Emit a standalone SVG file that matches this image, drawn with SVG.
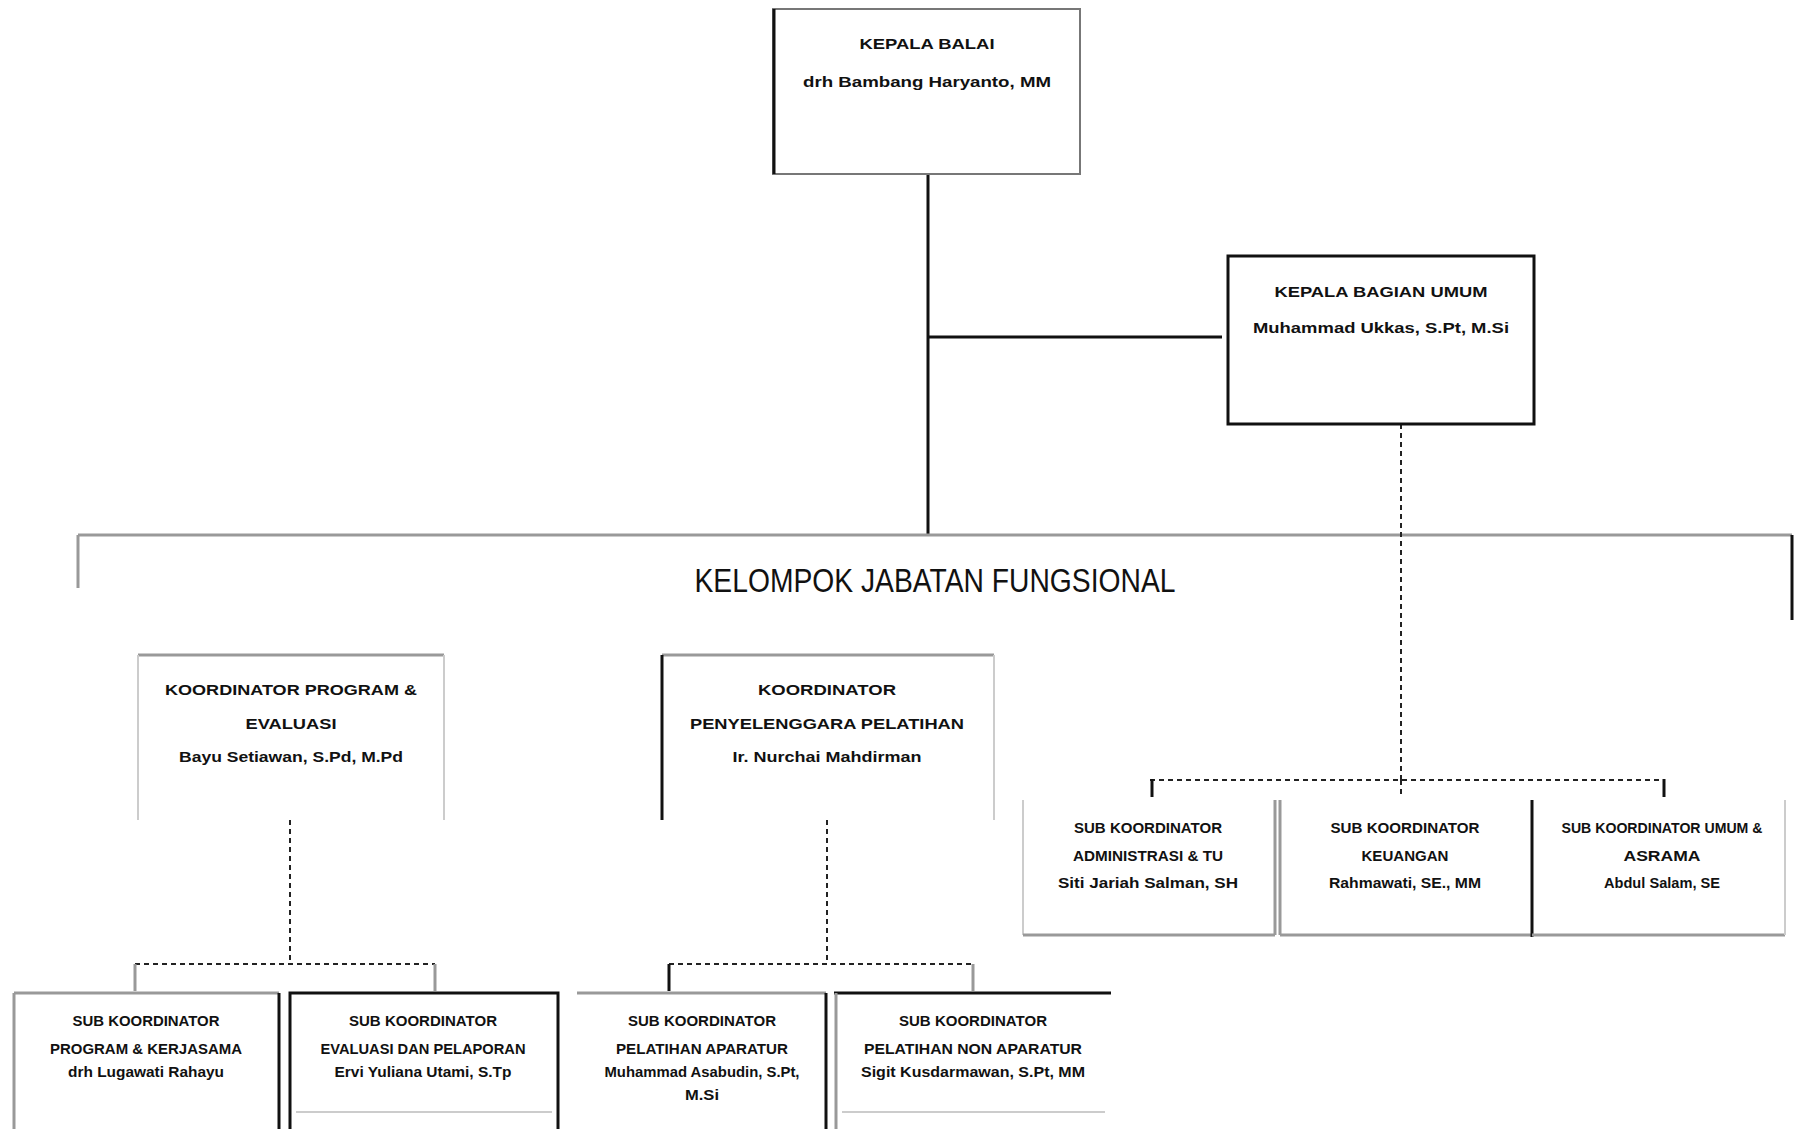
<svg xmlns="http://www.w3.org/2000/svg" width="1799" height="1129" viewBox="0 0 1799 1129">
<style>
text{font-family:"Liberation Sans",Arial,sans-serif;fill:#111;text-anchor:middle}
.t{font-size:15px;font-weight:bold}
.n{font-size:15px;font-weight:bold}
.big{font-size:34px}
.blk{stroke:#111;stroke-width:3;fill:none}
.gry{stroke:#999;stroke-width:3;fill:none}
.lgt{stroke:#ccc;stroke-width:2;fill:none}
.dsh{stroke:#222;stroke-width:2;stroke-dasharray:5 4;fill:none}
</style>
<rect width="1799" height="1129" fill="#fff"/>
<g id="connectors">
<line class="blk" x1="928" y1="174" x2="928" y2="535"/>
<line class="blk" x1="928" y1="337" x2="1222" y2="337" stroke-width="4"/>
<line class="gry" x1="78" y1="535" x2="1792" y2="535" stroke-width="5"/>
<line class="gry" x1="78" y1="535" x2="78" y2="588"/>
<line class="blk" x1="1792" y1="535" x2="1792" y2="620"/>
<line class="dsh" x1="1401" y1="424" x2="1401" y2="780"/>
<line class="dsh" x1="1150" y1="780" x2="1664" y2="780"/>
<line class="blk" x1="1152" y1="779" x2="1152" y2="797"/>
<line class="dsh" x1="1401" y1="780" x2="1401" y2="797"/>
<line class="blk" x1="1664" y1="779" x2="1664" y2="797"/>
<line class="dsh" x1="290" y1="820" x2="290" y2="964"/>
<line class="dsh" x1="135" y1="964" x2="435" y2="964"/>
<line class="gry" x1="135" y1="964" x2="135" y2="991" stroke-width="2"/>
<line class="gry" x1="435" y1="964" x2="435" y2="991" stroke-width="2"/>
<line class="dsh" x1="827" y1="820" x2="827" y2="964"/>
<line class="dsh" x1="669" y1="964" x2="973" y2="964"/>
<line class="blk" x1="669" y1="964" x2="669" y2="991" stroke-width="2"/>
<line class="gry" x1="973" y1="964" x2="973" y2="991" stroke-width="2"/>
</g>
<g id="kepala-balai">
<rect x="773" y="9" width="307" height="165" fill="#fff" stroke="#777" stroke-width="2"/>
<line class="blk" x1="774" y1="9" x2="774" y2="174"/>
<text class="t" x="927" y="49" textLength="135" lengthAdjust="spacingAndGlyphs">KEPALA BALAI</text>
<text class="n" x="927" y="87" textLength="248" lengthAdjust="spacingAndGlyphs" font-size="17">drh Bambang Haryanto, MM</text>
</g>
<g id="kepala-bagian-umum">
<rect x="1228" y="256" width="306" height="168" fill="#fff" class="blk"/>
<text class="t" x="1381" y="297" textLength="213" lengthAdjust="spacingAndGlyphs">KEPALA BAGIAN UMUM</text>
<text class="n" x="1381" y="333" textLength="256" lengthAdjust="spacingAndGlyphs">Muhammad Ukkas, S.Pt, M.Si</text>
</g>
<g id="kelompok-jabatan-fungsional">
<text class="big" x="935" y="592" textLength="481" lengthAdjust="spacingAndGlyphs">KELOMPOK JABATAN FUNGSIONAL</text>
</g>
<g id="koordinator-program-evaluasi">
<line class="gry" x1="138" y1="655" x2="444" y2="655"/>
<line class="lgt" x1="138" y1="655" x2="138" y2="820"/>
<line class="lgt" x1="444" y1="655" x2="444" y2="820"/>
<text class="t" x="291" y="695" textLength="252" lengthAdjust="spacingAndGlyphs">KOORDINATOR PROGRAM &amp;</text>
<text class="t" x="291" y="729" textLength="91" lengthAdjust="spacingAndGlyphs">EVALUASI</text>
<text class="n" x="291" y="762" textLength="224" lengthAdjust="spacingAndGlyphs">Bayu Setiawan, S.Pd, M.Pd</text>
</g>
<g id="koordinator-penyelenggara-pelatihan">
<line class="gry" x1="662" y1="655" x2="994" y2="655" stroke="#555"/>
<line class="blk" x1="662" y1="655" x2="662" y2="820"/>
<line class="lgt" x1="994" y1="655" x2="994" y2="820"/>
<text class="t" x="827" y="695" textLength="138" lengthAdjust="spacingAndGlyphs">KOORDINATOR</text>
<text class="t" x="827" y="729" textLength="274" lengthAdjust="spacingAndGlyphs">PENYELENGGARA PELATIHAN</text>
<text class="n" x="827" y="762" textLength="189" lengthAdjust="spacingAndGlyphs">Ir. Nurchai Mahdirman</text>
</g>
<g id="sub-kepegawaian">
<line class="lgt" x1="1023" y1="800" x2="1023" y2="935"/>
<line class="gry" x1="1023" y1="935" x2="1275" y2="935" stroke="#888"/>
<line class="gry" x1="1275" y1="800" x2="1275" y2="935" stroke-width="2"/>
<text class="t" x="1148" y="833" font-size="13" textLength="148" lengthAdjust="spacingAndGlyphs">SUB KOORDINATOR</text>
<text class="t" x="1148" y="861" font-size="13" textLength="150" lengthAdjust="spacingAndGlyphs">ADMINISTRASI &amp; TU</text>
<text class="n" x="1148" y="888" font-size="13" textLength="180" lengthAdjust="spacingAndGlyphs">Siti Jariah Salman, SH</text>
</g>
<g id="sub-keuangan">
<line class="gry" x1="1280" y1="800" x2="1280" y2="935" stroke-width="2"/>
<line class="gry" x1="1280" y1="935" x2="1532" y2="935" stroke="#888"/>
<text class="t" x="1405" y="833" font-size="13" textLength="149" lengthAdjust="spacingAndGlyphs">SUB KOORDINATOR</text>
<text class="t" x="1405" y="861" font-size="13" textLength="87" lengthAdjust="spacingAndGlyphs">KEUANGAN</text>
<text class="n" x="1405" y="888" font-size="13" textLength="152" lengthAdjust="spacingAndGlyphs">Rahmawati, SE., MM</text>
</g>
<g id="sub-umum">
<line class="blk" x1="1532" y1="800" x2="1532" y2="937" stroke-width="5"/>
<line class="gry" x1="1532" y1="935" x2="1785" y2="935" stroke="#888"/>
<line class="lgt" x1="1785" y1="800" x2="1785" y2="935"/>
<text class="t" x="1662" y="833" font-size="13" textLength="201" lengthAdjust="spacingAndGlyphs">SUB KOORDINATOR UMUM &amp;</text>
<text class="t" x="1662" y="861" font-size="13" textLength="77" lengthAdjust="spacingAndGlyphs">ASRAMA</text>
<text class="n" x="1662" y="888" font-size="12" textLength="116" lengthAdjust="spacingAndGlyphs">Abdul Salam, SE</text>
</g>
<g id="sub-program-kerjasama">
<line class="gry" x1="14" y1="993" x2="279" y2="993"/>
<line class="gry" x1="14" y1="993" x2="14" y2="1129" stroke-width="2"/>
<line class="blk" x1="279" y1="993" x2="279" y2="1129" stroke-width="4"/>
<text class="t" x="146" y="1026" font-size="13" textLength="147" lengthAdjust="spacingAndGlyphs">SUB KOORDINATOR</text>
<text class="t" x="146" y="1054" font-size="13" textLength="192" lengthAdjust="spacingAndGlyphs">PROGRAM &amp; KERJASAMA</text>
<text class="n" x="146" y="1077" font-size="13" textLength="156" lengthAdjust="spacingAndGlyphs">drh Lugawati Rahayu</text>
</g>
<g id="sub-evaluasi-pelaporan">
<rect x="290" y="993" width="268" height="150" fill="none" class="blk"/>
<line class="lgt" x1="296" y1="1112" x2="552" y2="1112"/>
<text class="t" x="423" y="1026" font-size="13" textLength="148" lengthAdjust="spacingAndGlyphs">SUB KOORDINATOR</text>
<text class="t" x="423" y="1054" font-size="13" textLength="205" lengthAdjust="spacingAndGlyphs">EVALUASI DAN PELAPORAN</text>
<text class="n" x="423" y="1077" font-size="13" textLength="177" lengthAdjust="spacingAndGlyphs">Ervi Yuliana Utami, S.Tp</text>
</g>
<g id="sub-pelatihan-aparatur">
<line class="gry" x1="577" y1="993" x2="826" y2="993"/>
<line class="blk" x1="826" y1="993" x2="826" y2="1129" stroke-width="4"/>
<text class="t" x="702" y="1026" font-size="13" textLength="148" lengthAdjust="spacingAndGlyphs">SUB KOORDINATOR</text>
<text class="t" x="702" y="1054" font-size="13" textLength="172" lengthAdjust="spacingAndGlyphs">PELATIHAN APARATUR</text>
<text class="n" x="702" y="1077" font-size="13" textLength="195" lengthAdjust="spacingAndGlyphs">Muhammad Asabudin, S.Pt,</text>
<text class="n" x="702" y="1100" font-size="13" textLength="34" lengthAdjust="spacingAndGlyphs">M.Si</text>
</g>
<g id="sub-pelatihan-non-aparatur">
<line class="blk" x1="834" y1="993" x2="1111" y2="993"/>
<line class="gry" x1="836" y1="993" x2="836" y2="1129" stroke-width="2"/>
<line class="lgt" x1="842" y1="1112" x2="1105" y2="1112"/>
<text class="t" x="973" y="1026" font-size="13" textLength="148" lengthAdjust="spacingAndGlyphs">SUB KOORDINATOR</text>
<text class="t" x="973" y="1054" font-size="13" textLength="218" lengthAdjust="spacingAndGlyphs">PELATIHAN NON APARATUR</text>
<text class="n" x="973" y="1077" font-size="13" textLength="224" lengthAdjust="spacingAndGlyphs">Sigit Kusdarmawan, S.Pt, MM</text>
</g>
</svg>
